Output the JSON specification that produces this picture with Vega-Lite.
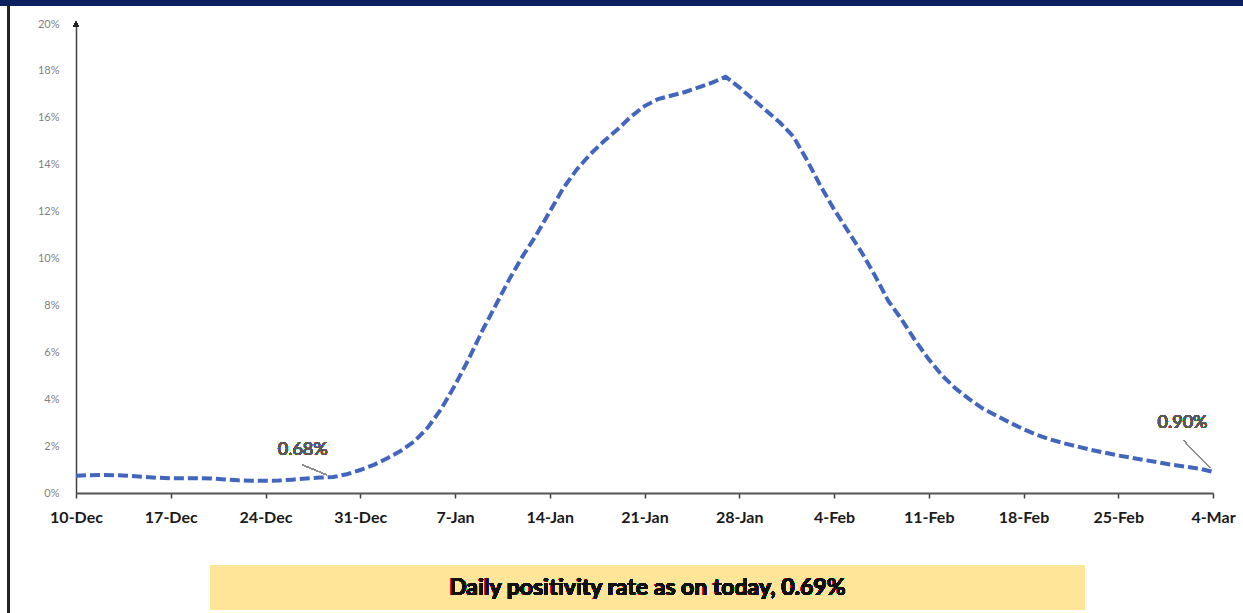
{
  "$schema": "https://vega.github.io/schema/vega-lite/v6.json",
  "width": 1137,
  "height": 469,
  "autosize": {"type": "none"},
  "padding": {"left": 76, "top": 24, "right": 30, "bottom": 120},
  "background": "white",
  "config": {"view": {"stroke": null}, "font": "Lato"},
  "data": {
    "values": [
      {"date": "2021-12-10", "rate": 0.74}, {"date": "2021-12-11", "rate": 0.76}, {"date": "2021-12-12", "rate": 0.77},
      {"date": "2021-12-13", "rate": 0.76}, {"date": "2021-12-14", "rate": 0.73}, {"date": "2021-12-15", "rate": 0.69},
      {"date": "2021-12-16", "rate": 0.65}, {"date": "2021-12-17", "rate": 0.63}, {"date": "2021-12-18", "rate": 0.63},
      {"date": "2021-12-19", "rate": 0.63}, {"date": "2021-12-20", "rate": 0.62}, {"date": "2021-12-21", "rate": 0.58},
      {"date": "2021-12-22", "rate": 0.54}, {"date": "2021-12-23", "rate": 0.52}, {"date": "2021-12-24", "rate": 0.52},
      {"date": "2021-12-25", "rate": 0.53}, {"date": "2021-12-26", "rate": 0.57}, {"date": "2021-12-27", "rate": 0.62},
      {"date": "2021-12-28", "rate": 0.66}, {"date": "2021-12-29", "rate": 0.68}, {"date": "2021-12-30", "rate": 0.8},
      {"date": "2021-12-31", "rate": 0.98},
      {"date": "2022-01-01", "rate": 1.2}, {"date": "2022-01-02", "rate": 1.48}, {"date": "2022-01-03", "rate": 1.8},
      {"date": "2022-01-04", "rate": 2.2}, {"date": "2022-01-05", "rate": 2.8}, {"date": "2022-01-06", "rate": 3.6},
      {"date": "2022-01-07", "rate": 4.6}, {"date": "2022-01-08", "rate": 5.7}, {"date": "2022-01-09", "rate": 6.9},
      {"date": "2022-01-10", "rate": 8.0}, {"date": "2022-01-11", "rate": 9.1}, {"date": "2022-01-12", "rate": 10.1},
      {"date": "2022-01-13", "rate": 11.0}, {"date": "2022-01-14", "rate": 12.0}, {"date": "2022-01-15", "rate": 13.0},
      {"date": "2022-01-16", "rate": 13.8}, {"date": "2022-01-17", "rate": 14.45}, {"date": "2022-01-18", "rate": 15.0},
      {"date": "2022-01-19", "rate": 15.5}, {"date": "2022-01-20", "rate": 16.05}, {"date": "2022-01-21", "rate": 16.5},
      {"date": "2022-01-22", "rate": 16.8}, {"date": "2022-01-23", "rate": 16.95}, {"date": "2022-01-24", "rate": 17.1},
      {"date": "2022-01-25", "rate": 17.3}, {"date": "2022-01-26", "rate": 17.5}, {"date": "2022-01-27", "rate": 17.75},
      {"date": "2022-01-28", "rate": 17.3}, {"date": "2022-01-29", "rate": 16.8}, {"date": "2022-01-30", "rate": 16.3},
      {"date": "2022-01-31", "rate": 15.8},
      {"date": "2022-02-01", "rate": 15.2}, {"date": "2022-02-02", "rate": 14.2}, {"date": "2022-02-03", "rate": 13.1},
      {"date": "2022-02-04", "rate": 12.1}, {"date": "2022-02-05", "rate": 11.2}, {"date": "2022-02-06", "rate": 10.3},
      {"date": "2022-02-07", "rate": 9.3}, {"date": "2022-02-08", "rate": 8.2}, {"date": "2022-02-09", "rate": 7.4},
      {"date": "2022-02-10", "rate": 6.5}, {"date": "2022-02-11", "rate": 5.7}, {"date": "2022-02-12", "rate": 5.0},
      {"date": "2022-02-13", "rate": 4.45}, {"date": "2022-02-14", "rate": 4.0}, {"date": "2022-02-15", "rate": 3.6},
      {"date": "2022-02-16", "rate": 3.3}, {"date": "2022-02-17", "rate": 3.0}, {"date": "2022-02-18", "rate": 2.72},
      {"date": "2022-02-19", "rate": 2.48}, {"date": "2022-02-20", "rate": 2.28}, {"date": "2022-02-21", "rate": 2.12},
      {"date": "2022-02-22", "rate": 1.98}, {"date": "2022-02-23", "rate": 1.84}, {"date": "2022-02-24", "rate": 1.72},
      {"date": "2022-02-25", "rate": 1.6}, {"date": "2022-02-26", "rate": 1.5}, {"date": "2022-02-27", "rate": 1.4},
      {"date": "2022-02-28", "rate": 1.3},
      {"date": "2022-03-01", "rate": 1.2}, {"date": "2022-03-02", "rate": 1.12}, {"date": "2022-03-03", "rate": 1.04},
      {"date": "2022-03-04", "rate": 0.9}
    ]
  },
  "encoding": {
    "x": {
      "field": "date",
      "type": "temporal",
      "scale": {
        "type": "utc",
        "domain": [
          {"year": 2021, "month": 12, "date": 10, "utc": true},
          {"year": 2022, "month": 3, "date": 4, "utc": true}
        ],
        "nice": false
      },
      "axis": {
        "title": null,
        "grid": false,
        "values": [
          {"year": 2021, "month": 12, "date": 10, "utc": true},
          {"year": 2021, "month": 12, "date": 17, "utc": true},
          {"year": 2021, "month": 12, "date": 24, "utc": true},
          {"year": 2021, "month": 12, "date": 31, "utc": true},
          {"year": 2022, "month": 1, "date": 7, "utc": true},
          {"year": 2022, "month": 1, "date": 14, "utc": true},
          {"year": 2022, "month": 1, "date": 21, "utc": true},
          {"year": 2022, "month": 1, "date": 28, "utc": true},
          {"year": 2022, "month": 2, "date": 4, "utc": true},
          {"year": 2022, "month": 2, "date": 11, "utc": true},
          {"year": 2022, "month": 2, "date": 18, "utc": true},
          {"year": 2022, "month": 2, "date": 25, "utc": true},
          {"year": 2022, "month": 3, "date": 4, "utc": true}
        ],
        "labelExpr": "utcFormat(datum.value, '%-d-%b')",
        "labelFlush": false,
        "labelOverlap": false,
        "labelFont": "Lato",
        "labelFontWeight": "bold",
        "labelFontSize": 16,
        "labelColor": "#1a1a1a",
        "labelPadding": 11,
        "tickSize": 5,
        "tickColor": "#404040",
        "tickWidth": 1.5,
        "domainColor": "#555555",
        "domainWidth": 2
      }
    }
  },
  "layer": [
    {
      "mark": {"type": "line", "color": "#4266BE", "strokeWidth": 4, "strokeDash": [10, 4]},
      "encoding": {
        "y": {
          "field": "rate",
          "type": "quantitative",
          "scale": {"domain": [0, 20], "nice": false, "zero": true},
          "axis": {
            "title": null,
            "grid": false,
            "values": [0, 2, 4, 6, 8, 10, 12, 14, 16, 18, 20],
            "labelExpr": "datum.value + '%'",
            "ticks": false,
            "labelPadding": 17,
            "labelFontSize": 11,
            "labelColor": "#808080",
            "labelFont": "Lato",
            "domainColor": "#404040",
            "domainWidth": 1.5
          }
        }
      }
    },
    {
      "mark": {"type": "point", "shape": "triangle-up", "filled": true, "color": "#222222", "size": 30, "opacity": 1},
      "encoding": {
        "x": {"datum": {"year": 2021, "month": 12, "date": 10, "utc": true}, "type": "temporal"},
        "y": {"datum": 20, "type": "quantitative"}
      }
    },
    {
      "mark": {"type": "rule", "color": "#8c8c8c", "strokeWidth": 1},
      "encoding": {
        "x": {"datum": {"year": 2021, "month": 12, "date": 26, "hours": 18, "utc": true}, "type": "temporal"},
        "x2": {"datum": {"year": 2021, "month": 12, "date": 28, "hours": 13, "utc": true}},
        "y": {"datum": 1.19, "type": "quantitative"},
        "y2": {"datum": 0.77}
      }
    },
    {
      "mark": {"type": "rule", "color": "#8c8c8c", "strokeWidth": 1},
      "encoding": {
        "x": {"datum": {"year": 2022, "month": 3, "date": 1, "hours": 19, "utc": true}, "type": "temporal"},
        "x2": {"datum": {"year": 2022, "month": 3, "date": 3, "hours": 19, "utc": true}},
        "y": {"datum": 2.26, "type": "quantitative"},
        "y2": {"datum": 1.07}
      }
    },
    {
      "mark": {"type": "text", "text": "0.68%", "font": "Lato", "fontSize": 18, "color": "#595959", "align": "center", "baseline": "middle"},
      "encoding": {
        "x": {"datum": {"year": 2021, "month": 12, "date": 26, "hours": 18, "utc": true}, "type": "temporal"},
        "y": {"datum": 1.83, "type": "quantitative"}
      }
    },
    {
      "mark": {"type": "text", "text": "0.90%", "font": "Lato", "fontSize": 18, "color": "#595959", "align": "center", "baseline": "middle"},
      "encoding": {
        "x": {"datum": {"year": 2022, "month": 3, "date": 1, "hours": 18, "utc": true}, "type": "temporal"},
        "y": {"datum": 2.97, "type": "quantitative"}
      }
    },
    {
      "mark": {"type": "rect", "color": "#FFE597"},
      "encoding": {
        "x": {"datum": {"year": 2021, "month": 12, "date": 19, "hours": 22, "utc": true}, "type": "temporal"},
        "x2": {"datum": {"year": 2022, "month": 2, "date": 22, "hours": 13, "utc": true}},
        "y": {"datum": -3.07, "type": "quantitative"},
        "y2": {"datum": -4.99}
      }
    },
    {
      "mark": {"type": "text", "text": "Daily positivity rate as on today, 0.69%", "font": "Lato", "fontWeight": "bold", "fontSize": 23, "color": "#111111", "align": "center", "baseline": "middle"},
      "encoding": {
        "x": {"datum": {"year": 2022, "month": 1, "date": 21, "hours": 5, "utc": true}, "type": "temporal"},
        "y": {"datum": -4.05, "type": "quantitative"}
      }
    },
    {
      "mark": {"type": "rect", "color": "#0C1F5E"},
      "encoding": {
        "x": {"datum": {"year": 2021, "month": 12, "date": 1, "utc": true}, "type": "temporal"},
        "x2": {"datum": {"year": 2022, "month": 3, "date": 10, "utc": true}},
        "y": {"datum": 21.1, "type": "quantitative"},
        "y2": {"datum": 20.77}
      }
    },
    {
      "mark": {"type": "rule", "color": "#222222", "strokeWidth": 2},
      "encoding": {
        "x": {"datum": {"year": 2021, "month": 12, "date": 5, "utc": true}, "type": "temporal"},
        "y": {"datum": 20.8, "type": "quantitative"},
        "y2": {"datum": -5.4}
      }
    }
  ]
}
